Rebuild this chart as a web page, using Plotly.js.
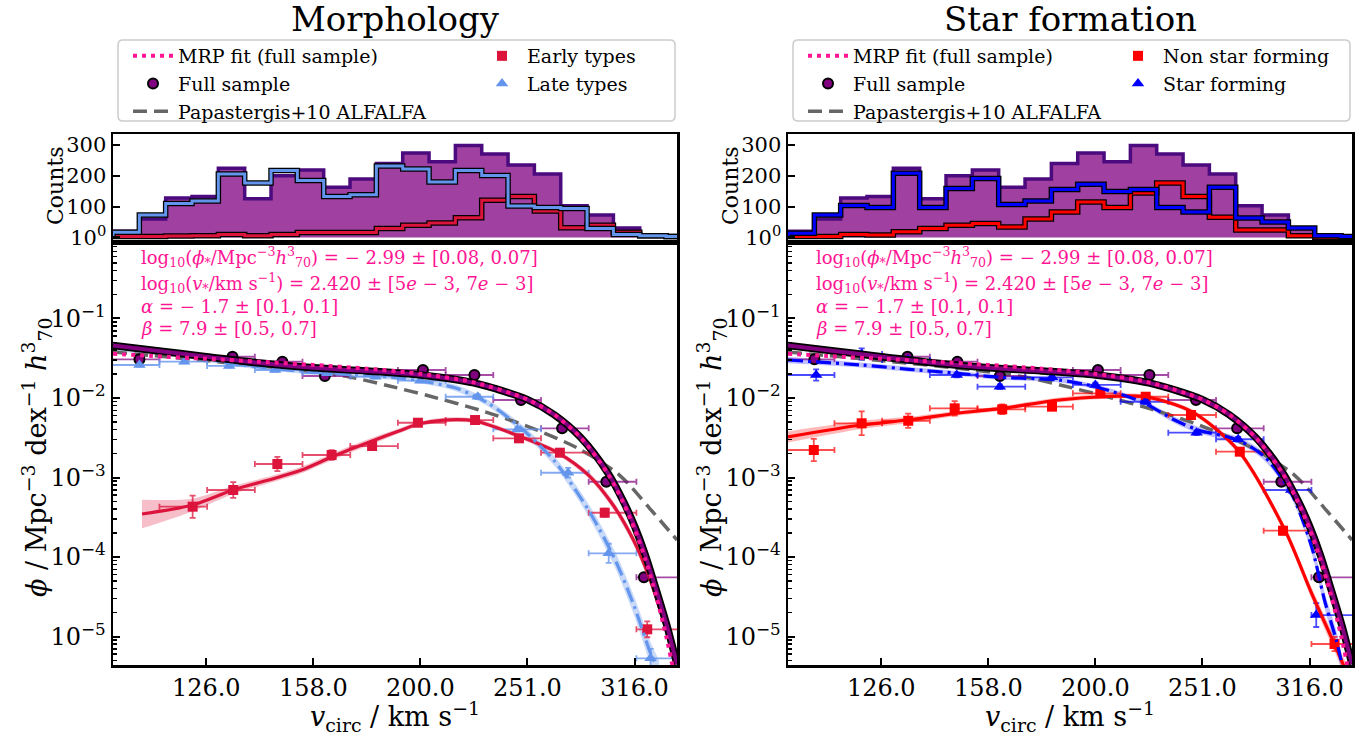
<!DOCTYPE html>
<html><head><meta charset="utf-8">
<script src="https://cdn.plot.ly/plotly-3.0.1.min.js"></script>
<style>body{margin:0;background:#fff}#plot{width:1370px;height:735px}</style>
</head><body><div id="plot"></div>
<script>
// ---------------- DATA (log10 values) ----------------
const PANEL_TITLES = ["Morphology", "Star formation"];
const X_TICKS = [2.1, 2.2, 2.3, 2.4, 2.5];
const X_TICKTEXT = ["126.0", "158.0", "200.0", "251.0", "316.0"];
const Y_TICKS = [-5, -4, -3, -2, -1];
const HIST_TICKS = [1, 100, 200, 300];
const HIST_TICKTEXT = ["10<sup>0</sup>", "100", "200", "300"];

// luminosity-function bin edges (log10 v)
const LF_EDGES = [2.0117, 2.0563, 2.1008, 2.1454, 2.1899, 2.2345, 2.2790, 2.3236, 2.3681, 2.4127, 2.4572, 2.5018, 2.5463];

// full sample points
const FULL_LOGV   = [2.0376, 2.1245, 2.1711, 2.2108, 2.3024, 2.3505, 2.3940, 2.4324, 2.4737, 2.5088];
const FULL_LOGPHI = [-1.513, -1.481, -1.543, -1.723, -1.648, -1.711, -2.025, -2.381, -3.053, -4.255];
const FULL_ERR    = [0.02, 0.02, 0.02, 0.02, 0.02, 0.02, 0.02, 0.03, 0.03, 0.05];

// early types
const EARLY_LOGV   = [2.0873, 2.1252, 2.1664, 2.2171, 2.2549, 2.2977, 2.3511, 2.3921, 2.4303, 2.4722, 2.5119];
const EARLY_LOGPHI = [-3.367, -3.157, -2.830, -2.717, -2.604, -2.311, -2.277, -2.507, -2.688, -3.443, -4.909];
const EARLY_ERR    = [0.14, 0.10, 0.09, 0.06, 0.05, 0.04, 0.04, 0.04, 0.04, 0.05, 0.10];

// late types
const LATE_LOGV   = [2.0376, 2.0795, 2.1214, 2.1643, 2.2130, 2.2580, 2.3000, 2.3536, 2.3908, 2.4380, 2.4759, 2.5150];
const LATE_LOGPHI = [-1.585, -1.543, -1.597, -1.648, -1.689, -1.732, -1.782, -1.984, -2.394, -2.940, -3.953, -5.274];
const LATE_ERR    = [0.02, 0.02, 0.02, 0.02, 0.02, 0.02, 0.02, 0.03, 0.03, 0.06, 0.12, 0.12];

// non star forming
const NSF_LOGV   = [2.0370, 2.0817, 2.1252, 2.1686, 2.2130, 2.2595, 2.3046, 2.3470, 2.3893, 2.4349, 2.4753, 2.5234];
const NSF_LOGPHI = [-2.654, -2.318, -2.286, -2.130, -2.142, -2.109, -1.941, -1.984, -2.214, -2.675, -3.669, -5.094];
const NSF_ERR    = [0.14, 0.15, 0.09, 0.09, 0.06, 0.04, 0.04, 0.03, 0.03, 0.04, 0.05, 0.09];

// star forming
const SF_LOGV   = [2.0392, 2.0817, 2.1252, 2.1705, 2.2108, 2.2595, 2.3000, 2.3470, 2.3945, 2.4334, 2.4830, 2.5063];
const SF_LOGPHI = [-1.711, -1.447, -1.522, -1.711, -1.858, -1.740, -1.836, -2.047, -2.436, -2.519, -3.157, -4.730];
const SF_ERR    = [0.07, 0.07, 0.04, 0.03, 0.03, 0.03, 0.03, 0.03, 0.03, 0.03, 0.04, 0.15];

// MRP fit (full sample)
const MRP_LOGV   = [2.0129, 2.05, 2.10, 2.15, 2.20, 2.25, 2.30, 2.35, 2.40, 2.425, 2.45, 2.475, 2.49, 2.50, 2.51, 2.52, 2.53, 2.5397];
const MRP_LOGPHI = [-1.445, -1.472, -1.507, -1.544, -1.584, -1.631, -1.695, -1.803, -2.018, -2.209, -2.501, -2.950, -3.331, -3.647, -4.025, -4.478, -5.019, -5.65];

// full-sample fit (black)
const FULLFIT_LOGV   = [2.0129, 2.05, 2.10, 2.15, 2.20, 2.25, 2.30, 2.35, 2.40, 2.425, 2.45, 2.475, 2.49, 2.50, 2.51, 2.52, 2.53, 2.5397];
const FULLFIT_LOGPHI = [-1.34, -1.40, -1.48, -1.56, -1.62, -1.66, -1.71, -1.81, -2.02, -2.21, -2.50, -2.94, -3.31, -3.61, -3.97, -4.40, -4.85, -5.35];

// Papastergis+10 ALFALFA
const PAPA_LOGV   = [2.0129, 2.0942, 2.1870, 2.2337, 2.2710, 2.3084, 2.3551, 2.4018, 2.4485, 2.4859, 2.5139, 2.5397];
const PAPA_LOGPHI = [-1.421, -1.522, -1.648, -1.736, -1.849, -1.975, -2.151, -2.365, -2.642, -2.969, -3.384, -3.786];

// early-type fit + band half width
const EFIT_LOGV   = [2.040, 2.087, 2.125, 2.165, 2.189, 2.215, 2.233, 2.255, 2.280, 2.298, 2.322, 2.351, 2.392, 2.429, 2.457, 2.480, 2.499, 2.513, 2.527, 2.538];
const EFIT_LOGPHI = [-3.459, -3.346, -3.157, -3.006, -2.906, -2.755, -2.654, -2.541, -2.415, -2.327, -2.277, -2.289, -2.478, -2.692, -2.969, -3.346, -3.786, -4.226, -4.792, -5.296];
const EFIT_BAND   = [0.18, 0.08, 0.05, 0.04, 0.04, 0.04, 0.04, 0.04, 0.03, 0.03, 0.03, 0.03, 0.03, 0.03, 0.04, 0.05, 0.06, 0.07, 0.08, 0.10];

// late-type fit + band
const LFIT_LOGV   = [2.0129, 2.081, 2.121, 2.165, 2.212, 2.280, 2.300, 2.333, 2.363, 2.394, 2.426, 2.457, 2.482, 2.500, 2.515, 2.523];
const LFIT_LOGPHI = [-1.358, -1.459, -1.560, -1.635, -1.686, -1.748, -1.786, -1.874, -2.063, -2.377, -2.805, -3.409, -4.038, -4.629, -5.208, -5.45];
const LFIT_BAND   = [0.05, 0.04, 0.03, 0.03, 0.03, 0.03, 0.03, 0.04, 0.04, 0.05, 0.06, 0.08, 0.10, 0.12, 0.14, 0.15];

// non-star-forming fit + band
const NFIT_LOGV   = [2.0129, 2.081, 2.1245, 2.171, 2.213, 2.266, 2.306, 2.3465, 2.390, 2.433, 2.477, 2.502, 2.523, 2.533];
const NFIT_LOGPHI = [-2.49, -2.340, -2.277, -2.192, -2.130, -2.025, -1.984, -1.984, -2.172, -2.654, -3.660, -4.457, -5.086, -5.40];
const NFIT_BAND   = [0.07, 0.05, 0.04, 0.03, 0.03, 0.03, 0.03, 0.03, 0.03, 0.04, 0.05, 0.07, 0.09, 0.10];

// star-forming fit + band
const SFIT_LOGV   = [2.0129, 2.081, 2.126, 2.171, 2.2115, 2.266, 2.300, 2.343, 2.374, 2.396, 2.433, 2.458, 2.483, 2.502, 2.514, 2.525, 2.5295];
const SFIT_LOGPHI = [-1.522, -1.585, -1.639, -1.689, -1.740, -1.774, -1.858, -2.047, -2.277, -2.403, -2.528, -2.738, -3.199, -3.870, -4.541, -5.044, -5.296];
const SFIT_BAND   = [0.04, 0.03, 0.03, 0.03, 0.03, 0.03, 0.03, 0.03, 0.04, 0.04, 0.04, 0.05, 0.06, 0.08, 0.10, 0.12, 0.12];

// histograms (counts)
const HIST_EDGES = [2.0129, 2.0375, 2.0621, 2.0867, 2.1113, 2.1359, 2.1605, 2.1851, 2.2097, 2.2343, 2.2589, 2.2835, 2.3081, 2.3327, 2.3573, 2.3819, 2.4065, 2.4311, 2.4557, 2.4803, 2.5049, 2.5295, 2.5541];
const HIST_FULL  = [20, 60, 128, 133, 225, 126, 200, 219, 163, 190, 240, 274, 246, 298, 271, 235, 206, 103, 73, 31, 9, 2];
const HIST_EARLY = [3, 3, 5, 6, 10, 6, 10, 16, 16, 16, 29, 40, 47, 64, 121, 133, 86, 32, 40, 17, 6, 3];
const HIST_LATE  = [17, 73, 110, 118, 206, 177, 217, 185, 133, 139, 232, 222, 180, 217, 201, 102, 97, 94, 29, 10, 6, 3];
const HIST_NSF   = [3, 3, 10, 8, 19, 29, 40, 45, 34, 60, 83, 115, 97, 144, 177, 133, 66, 24, 24, 6, 1, 0];
const HIST_SF    = [14, 73, 104, 97, 208, 97, 159, 191, 107, 118, 156, 173, 149, 156, 97, 83, 163, 63, 50, 31, 6, 3];

// ---------------- helpers ----------------
const P = v => Math.pow(10, v);
const W = 1370, H = 735;
const FONT = 'DejaVu Serif';
const px = v => v / W, py = v => 1 - v / H;

function binErr(lv) {
  for (let i = 0; i < LF_EDGES.length - 1; i++)
    if (lv >= LF_EDGES[i] && lv < LF_EDGES[i + 1]) return [P(lv) - P(LF_EDGES[i]), P(LF_EDGES[i + 1]) - P(lv)];
  return [0, 0];
}
function points(lv, lp, err, name, sym, color, ecol, edge, xa, ya, legend, rank, size) {
  const xe = lv.map(binErr);
  return {
    type: 'scatter', mode: 'markers', name: name, x: lv.map(P), y: lp.map(P),
    xaxis: xa, yaxis: ya, legend: legend, legendrank: rank, showlegend: !!legend,
    marker: { symbol: sym, size: size, color: color, line: { color: edge || color, width: edge ? 2 : 0 } },
    error_x: { type: 'data', symmetric: false, array: xe.map(e => e[1]), arrayminus: xe.map(e => e[0]), color: ecol, thickness: 1.8, width: 3 },
    error_y: { type: 'data', symmetric: false, array: lp.map((v, i) => P(v + err[i]) - P(v)), arrayminus: lp.map((v, i) => P(v) - P(v - err[i])), color: ecol, thickness: 1.8, width: 3 }
  };
}
function line(lv, lp, color, width, dash, xa, ya, name, legend, rank) {
  return {
    type: 'scatter', mode: 'lines', name: name || ' ', x: lv.map(P), y: lp.map(P), xaxis: xa, yaxis: ya,
    line: { color: color, width: width, dash: dash || 'solid', shape: 'spline', smoothing: 0.8 },
    showlegend: !!legend, legend: legend, legendrank: rank, hoverinfo: 'skip'
  };
}
function band(lv, lp, hw, fill, xa, ya) {
  return [
    { type: 'scatter', mode: 'lines', x: lv.map(P), y: lp.map((v, i) => P(v + hw[i])), xaxis: xa, yaxis: ya,
      line: { width: 0, shape: 'spline', smoothing: 0.8 }, showlegend: false, hoverinfo: 'skip' },
    { type: 'scatter', mode: 'lines', x: lv.map(P), y: lp.map((v, i) => P(v - hw[i])), xaxis: xa, yaxis: ya,
      line: { width: 0, shape: 'spline', smoothing: 0.8 }, fill: 'tonexty', fillcolor: fill, showlegend: false, hoverinfo: 'skip' }
  ];
}
function stepXY(counts) {
  const x = [P(HIST_EDGES[0])], y = [0];
  counts.forEach((c, i) => { x.push(P(HIST_EDGES[i])); y.push(c); });
  const n = counts.length;
  x.push(P(HIST_EDGES[n])); y.push(counts[n - 1]);
  x.push(P(HIST_EDGES[n])); y.push(0);
  return { x, y };
}
function histFill(counts, xa, ya) {
  const s = stepXY(counts);
  return { type: 'scatter', mode: 'lines', x: s.x, y: s.y, xaxis: xa, yaxis: ya, fill: 'tozeroy',
    fillcolor: 'rgba(128,0,128,0.75)', line: { color: '#4b0a7e', width: 3.5, shape: 'hv' }, showlegend: false, hoverinfo: 'skip' };
}
function histStep(counts, color, xa, ya) {
  const s = stepXY(counts);
  return [
    { type: 'scatter', mode: 'lines', x: s.x, y: s.y, xaxis: xa, yaxis: ya, line: { color: '#000', width: 5.5, shape: 'hv' }, showlegend: false, hoverinfo: 'skip' },
    { type: 'scatter', mode: 'lines', x: s.x, y: s.y, xaxis: xa, yaxis: ya, line: { color: color, width: 3, shape: 'hv' }, showlegend: false, hoverinfo: 'skip' }
  ];
}

const GRAY_DASH = '14px,7px';
const DASHDOT = '15px,5px,3px,5px';
const PINK = '#ff1493';

function panel(side) {
  const L = side === 0;
  const xa = L ? 'x' : 'x3', ya = L ? 'y' : 'y3', xh = L ? 'x2' : 'x4', yh = L ? 'y2' : 'y4';
  const lg1 = L ? 'legend' : 'legend3', lg2 = L ? 'legend2' : 'legend4';
  const A = L ? { lv: EARLY_LOGV, lp: EARLY_LOGPHI, e: EARLY_ERR, fv: EFIT_LOGV, fp: EFIT_LOGPHI, fb: EFIT_BAND, c: '#dc143c', ec: 'rgba(220,20,60,0.75)', band: 'rgba(220,20,60,0.28)', name: 'Early types', h: HIST_EARLY }
              : { lv: NSF_LOGV, lp: NSF_LOGPHI, e: NSF_ERR, fv: NFIT_LOGV, fp: NFIT_LOGPHI, fb: NFIT_BAND, c: '#ff0000', ec: 'rgba(255,0,0,0.7)', band: 'rgba(255,0,0,0.28)', name: 'Non star forming', h: HIST_NSF };
  const B = L ? { lv: LATE_LOGV, lp: LATE_LOGPHI, e: LATE_ERR, fv: LFIT_LOGV, fp: LFIT_LOGPHI, fb: LFIT_BAND, c: '#6495ed', ec: 'rgba(100,149,237,0.8)', band: 'rgba(100,149,237,0.35)', name: 'Late types', h: HIST_LATE }
              : { lv: SF_LOGV, lp: SF_LOGPHI, e: SF_ERR, fv: SFIT_LOGV, fp: SFIT_LOGPHI, fb: SFIT_BAND, c: '#0000ff', ec: 'rgba(0,0,255,0.7)', band: 'rgba(0,0,255,0.25)', name: 'Star forming', h: HIST_SF };
  let t = [];
  t.push(histFill(HIST_FULL, xh, yh));
  t = t.concat(histStep(A.h, A.c, xh, yh));
  t = t.concat(histStep(B.h, B.c, xh, yh));
  t = t.concat(band(A.fv, A.fp, A.fb, A.band, xa, ya));
  t = t.concat(band(B.fv, B.fp, B.fb, B.band, xa, ya));
  t.push(line(PAPA_LOGV, PAPA_LOGPHI, '#666666', 3.5, GRAY_DASH, xa, ya, 'Papastergis+10 ALFALFA', lg1, 3));
  t.push(points(FULL_LOGV, FULL_LOGPHI, FULL_ERR, 'Full sample', 'circle', '#800080', 'rgba(128,0,128,0.7)', '#000', xa, ya, lg1, 2, 10));
  t.push(points(A.lv, A.lp, A.e, A.name, 'square', A.c, A.ec, null, xa, ya, lg2, 1, 10));
  t.push(points(B.lv, B.lp, B.e, B.name, 'triangle-up', B.c, B.ec, null, xa, ya, lg2, 2, 11));
  t.push(line(A.fv, A.fp, A.c, 3.2, 'solid', xa, ya));
  t.push(line(B.fv, B.fp, B.c, 3.2, DASHDOT, xa, ya));
  t.push(line(FULLFIT_LOGV, FULLFIT_LOGPHI, '#000000', 7.5, 'solid', xa, ya));
  t.push(line(FULLFIT_LOGV, FULLFIT_LOGPHI, '#800080', 4, 'solid', xa, ya));
  t.push(line(MRP_LOGV, MRP_LOGPHI, PINK, 4, '4px,5px', xa, ya, 'MRP fit (full sample)', lg1, 1));
  return t;
}

const data = panel(0).concat(panel(1));

const MINOR = [];
for (let k = -6; k <= -1; k++) for (let m = 2; m <= 9; m++) MINOR.push(m * Math.pow(10, k));

const XR = [2.0129, 2.5397];
const YR = [-5.358, -0.038];
const HR = [-14.6, 335.7];
const LX = [113, 677], RX = [788, 1352];
const MAIN_D = [py(665), py(242)], HIST_D = [py(242), py(134)];
const base = { showline: true, linecolor: '#000', linewidth: 2.5, mirror: true, showgrid: false, zeroline: false, tickcolor: '#000' };
const tf = s => ({ family: FONT, size: s, color: '#000' });

function axes(dom, xa, ya, xh, yh) {
  return {
    main_x: Object.assign({}, base, { type: 'log', range: XR, domain: dom, anchor: ya, ticks: 'inside', ticklen: 7, tickwidth: 2,
      tickmode: 'array', tickvals: X_TICKS.map(P), ticktext: X_TICKTEXT, tickfont: tf(24) }),
    main_y: Object.assign({}, base, { type: 'log', range: YR, domain: MAIN_D, anchor: xa, ticks: 'inside', ticklen: 7, tickwidth: 2,
      tickmode: 'array', tickvals: Y_TICKS.map(P), ticktext: Y_TICKS.map(v => '10<sup>−' + (-v) + '</sup>'), tickfont: tf(24),
      minor: { tickmode: 'array', tickvals: MINOR, ticks: 'inside', ticklen: 4, tickwidth: 1.5, tickcolor: '#000', showgrid: false } }),
    hist_x: Object.assign({}, base, { type: 'log', matches: xa, domain: dom, anchor: yh, ticks: '', showticklabels: false }),
    hist_y: Object.assign({}, base, { range: HR, domain: HIST_D, anchor: xh, ticks: 'inside', ticklen: 7, tickwidth: 2,
      tickmode: 'array', tickvals: HIST_TICKS, ticktext: HIST_TICKTEXT, tickfont: tf(21) })
  };
}
const al = axes([px(LX[0]), px(LX[1])], 'x', 'y', 'x2', 'y2');
const ar = axes([px(RX[0]), px(RX[1])], 'x3', 'y3', 'x4', 'y4');

function legendBox(x0, x1, y0, y1) {
  const r = 5, X0 = px(x0), X1 = px(x1), Y0 = py(y1), Y1 = py(y0), rx = r / W, ry = r / H;
  return { type: 'path', xref: 'paper', yref: 'paper', layer: 'below',
    path: `M ${X0 + rx},${Y1} L ${X1 - rx},${Y1} Q ${X1},${Y1} ${X1},${Y1 - ry} L ${X1},${Y0 + ry} Q ${X1},${Y0} ${X1 - rx},${Y0} L ${X0 + rx},${Y0} Q ${X0},${Y0} ${X0},${Y0 + ry} L ${X0},${Y1 - ry} Q ${X0},${Y1} ${X0 + rx},${Y1} Z`,
    line: { color: '#cccccc', width: 1.5 }, fillcolor: 'rgba(255,255,255,0.8)' };
}
const legCommon = { yanchor: 'top', xanchor: 'left', bgcolor: 'rgba(0,0,0,0)', borderwidth: 0, font: tf(19), itemwidth: 40, tracegroupgap: 0, traceorder: 'normal' };

const PARAM_TEXT = [
  'log<sub>10</sub>(<i>ϕ</i><sub>*</sub>/Mpc<sup>−3</sup><i>h</i><sup>3</sup><sub>70</sub>) = − 2.99 ± [0.08, 0.07]',
  'log<sub>10</sub>(<i>v</i><sub>*</sub>/km s<sup>−1</sup>) = 2.420 ± [5<i>e</i> − 3, 7<i>e</i> − 3]',
  '<i>α</i> = − 1.7 ± [0.1, 0.1]',
  '<i>β</i> = 7.9 ± [0.5, 0.7]'
];
const PARAM_Y = [257, 283, 306, 328];

const annotations = [];
[LX, RX].forEach((X, i) => {
  const cx = (X[0] + X[1]) / 2;
  annotations.push({ text: PANEL_TITLES[i], x: px(cx), y: py(19), xref: 'paper', yref: 'paper', showarrow: false, xanchor: 'center', yanchor: 'middle', font: tf(34) });
  annotations.push({ text: '<i>v</i><sub>circ</sub> / km s<sup>−1</sup>', x: px(cx), y: py(716), xref: 'paper', yref: 'paper', showarrow: false, xanchor: 'center', yanchor: 'middle', font: tf(27) });
  annotations.push({ text: '<i>ϕ</i> / Mpc<sup>−3</sup> dex<sup>−1</sup> <i>h</i><sup>3</sup><sub>70</sub>', x: px(X[0] - 77), y: py(457), xref: 'paper', yref: 'paper', showarrow: false, textangle: -90, xanchor: 'center', yanchor: 'middle', font: tf(27) });
  annotations.push({ text: 'Counts', x: px(X[0] - 57), y: py(186), xref: 'paper', yref: 'paper', showarrow: false, textangle: -90, xanchor: 'center', yanchor: 'middle', font: tf(22) });
  PARAM_TEXT.forEach((t, j) => annotations.push({ text: t, x: px(X[0] + 26), y: py(PARAM_Y[j]), xref: 'paper', yref: 'paper', showarrow: false, xanchor: 'left', yanchor: 'middle', font: { family: FONT, size: 18, color: PINK } }));
});

const layout = {
  width: W, height: H, margin: { l: 0, r: 0, t: 0, b: 0 }, paper_bgcolor: '#fff', plot_bgcolor: '#fff',
  font: { family: FONT, color: '#000' }, showlegend: true,
  xaxis: al.main_x, yaxis: al.main_y, xaxis2: al.hist_x, yaxis2: al.hist_y,
  xaxis3: ar.main_x, yaxis3: ar.main_y, xaxis4: ar.hist_x, yaxis4: ar.hist_y,
  legend: Object.assign({}, legCommon, { x: px(128), y: py(37) }),
  legend2: Object.assign({}, legCommon, { x: px(477), y: py(37) }),
  legend3: Object.assign({}, legCommon, { x: px(803), y: py(37) }),
  legend4: Object.assign({}, legCommon, { x: px(1113), y: py(37) }),
  shapes: [legendBox(118, 675, 40, 121), legendBox(793, 1350, 40, 121)],
  annotations: annotations
};

Plotly.newPlot('plot', data, layout, { staticPlot: true, displayModeBar: false });
</script></body></html>
